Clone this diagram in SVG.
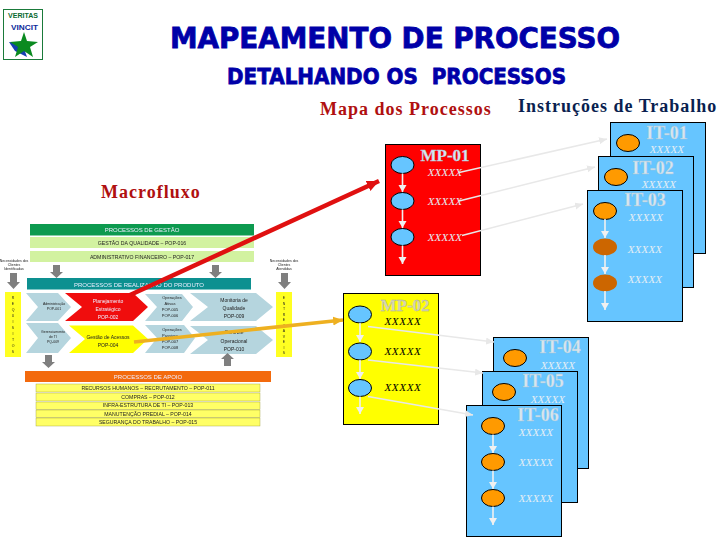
<svg xmlns="http://www.w3.org/2000/svg" width="720" height="540" viewBox="0 0 720 540">
<style>
text{font-family:"Liberation Serif",serif}
.s{font-family:"Liberation Sans",sans-serif}
.h{font-family:"DejaVu Sans",sans-serif;font-weight:bold;fill:#0000a8;stroke:#0000a8;stroke-width:.8}
.r{font-size:18px;font-weight:bold;letter-spacing:1px}
.it{fill:#66c5ff;stroke:#000;stroke-width:1}
.title{font-size:18px;font-weight:bold;fill:#d9e6ee;text-anchor:middle;stroke:#9fc4da;stroke-width:.3}
.x{font-size:11px;font-style:italic;fill:#e4eef5;text-anchor:middle;letter-spacing:.2px}
.xk{font-size:11px;font-style:italic;fill:#000;text-anchor:middle;letter-spacing:.7px}
.eo{fill:#ff9a00;stroke:#000;stroke-width:1}
.eb{fill:#66c5ff;stroke:#000;stroke-width:1}
.ed{fill:#cc6600}
.fl{stroke:#f0f0f0;stroke-width:1.600;fill:none;marker-end:url(#wa)}
.ln{stroke:#e8e8e8;stroke-width:1.600;fill:none;marker-end:url(#ga)}
.t{font-family:"Liberation Sans",sans-serif;font-size:5.200px;text-anchor:middle;fill:#222}
.tw{font-family:"Liberation Sans",sans-serif;font-size:6px;text-anchor:middle;fill:#eef}
.n4{font-size:3.500px}
.n5{font-size:5px}
.n6{font-size:4px}
.c{fill:#b5d5de}
.ar{fill:#7f7f7f}
</style>
<defs>
<marker id="wa" markerUnits="userSpaceOnUse" markerWidth="8" markerHeight="9" refX="7" refY="4" orient="auto"><path d="M0 0L7 4L0 8Z" fill="#f0f0f0"/></marker>
<marker id="ga" markerUnits="userSpaceOnUse" markerWidth="9" markerHeight="8" refX="8" refY="3.500" orient="auto"><path d="M0 0L8 3.500L0 7Z" fill="#e8e8e8"/></marker>
<marker id="ra" markerUnits="userSpaceOnUse" markerWidth="14" markerHeight="12" refX="12" refY="5.500" orient="auto"><path d="M0 0L12 5.500L0 11Z" fill="#e01010"/></marker>
<marker id="oa" markerUnits="userSpaceOnUse" markerWidth="12" markerHeight="10" refX="10" refY="4.500" orient="auto"><path d="M0 0L10 4.500L0 9Z" fill="#eeb020"/></marker>
<filter id="b" x="-5%" y="-5%" width="110%" height="110%"><feGaussianBlur stdDeviation=".5"/></filter>
</defs>

<g id="logo">
<rect x="3.500" y="9.500" width="39" height="50" fill="#fff" stroke="#1a7a3a" stroke-width="1"/>
<text x="8" y="17.500" class="s" font-size="8" font-weight="bold" fill="#0a6a30" textLength="30" lengthAdjust="spacingAndGlyphs">VERITAS</text>
<text x="11" y="29.500" class="s" font-size="8" font-weight="bold" fill="#0a2a9a" textLength="27" lengthAdjust="spacingAndGlyphs">VINCIT</text>
<path d="M9 42L22 43L27 57L15 51Z" fill="#1540b0"/>
<path d="M24 32L27 41L38 42L30 47L33 57L24 51L15 57L18 47L10 42L21 41Z" fill="#0a8a20"/>
</g>

<g id="titles">
<text x="170" y="48" class="h" font-size="28" textLength="450" lengthAdjust="spacingAndGlyphs">MAPEAMENTO DE PROCESSO</text>
<text x="227" y="84" class="h" font-size="21.500" textLength="339" lengthAdjust="spacingAndGlyphs" xml:space="preserve">DETALHANDO OS  PROCESSOS</text>
<text x="320" y="115" class="r" fill="#b01010">Mapa dos Processos</text>
<text x="518" y="112" class="r" fill="#0a1f50">Instruções de Trabalho</text>
<text x="101" y="198" class="r" fill="#b01010">Macrofluxo</text>
</g>

<g id="macrofluxo" filter="url(#b)">
<rect x="30" y="224" width="224" height="11.500" fill="#0f9a50"/>
<text x="142" y="232" class="tw">PROCESSOS DE GESTÃO</text>
<rect x="30" y="237" width="224" height="11" fill="#d2f2a0"/>
<text x="142" y="245" class="t">GESTÃO DA QUALIDADE – POP-016</text>
<rect x="30" y="251" width="224" height="11" fill="#d2f2a0"/>
<text x="142" y="259" class="t">ADMINISTRATIVO FINANCEIRO – POP-017</text>
<path class="ar" d="M53 265h7v7h3l-6.500 6l-6.500-6h3Z"/>
<path class="ar" d="M212 265h7v7h3l-6.500 6l-6.500-6h3Z"/>
<path class="ar" d="M10 273h7v9h3l-6.500 7l-6.500-7h3Z"/>
<path class="ar" d="M281 273h7v9h3l-6.500 7l-6.500-7h3Z"/>
<text x="14" y="262" class="t n4">Necessidades dos</text>
<text x="14" y="266" class="t n4">Clientes</text>
<text x="14" y="270" class="t n4">Identificadas</text>
<text x="284" y="262" class="t n4">Necessidades dos</text>
<text x="284" y="266" class="t n4">Clientes</text>
<text x="284" y="270" class="t n4">Atendidas</text>
<rect x="27" y="278" width="224" height="11.500" fill="#0a9090"/>
<text x="139" y="286.500" class="tw">PROCESSOS DE REALIZAÇÃO DO PRODUTO</text>
<rect x="5" y="292" width="16" height="65" fill="#ffff20"/>
<rect x="276" y="292" width="16" height="65" fill="#ffff20"/>
<text class="t n4"><tspan x="13" y="299">R</tspan><tspan x="13" y="305">E</tspan><tspan x="13" y="311">Q</tspan><tspan x="13" y="317">U</tspan><tspan x="13" y="323">I</tspan><tspan x="13" y="329">S</tspan><tspan x="13" y="335">I</tspan><tspan x="13" y="341">T</tspan><tspan x="13" y="347">O</tspan><tspan x="13" y="353">S</tspan></text>
<text class="t n4"><tspan x="284" y="299">E</tspan><tspan x="284" y="304.500">N</tspan><tspan x="284" y="310">T</tspan><tspan x="284" y="315.500">R</tspan><tspan x="284" y="321">E</tspan><tspan x="284" y="326.500">G</tspan><tspan x="284" y="332">A</tspan><tspan x="284" y="337.500">V</tspan><tspan x="284" y="343">E</tspan><tspan x="284" y="348.500">I</tspan><tspan x="284" y="354">S</tspan></text>
<path class="c" d="M26 293H58L71 307L58 321H26L38 307Z"/>
<path class="c" d="M26 323H58L71 338L58 353H26L38 338Z"/>
<path d="M65 293H133L148 307L133 321H65L82 307Z" fill="#f01010"/>
<path d="M69 325.500H133L148 339L133 353H69L85 339Z" fill="#ffff00"/>
<path class="c" d="M145 294H182L193 307L182 321H145L157 307Z"/>
<path class="c" d="M145 325H184L195 338L184 353H145L157 338Z"/>
<path class="c" d="M190 293H256L273 307L256 321H190L208 307Z"/>
<path class="c" d="M190 326H256L273 340L256 354H190L208 340Z"/>
<text x="54" y="305" class="t n4">Administração</text><text x="54" y="310" class="t n4">POP-001</text>
<text x="53" y="333" class="t n4">Gerenciamento</text><text x="53" y="338" class="t n4">de TI</text><text x="53" y="343" class="t n4">PQ-009</text>
<text x="108" y="303" class="tw n5">Planejamento</text><text x="108" y="311" class="tw n5">Estratégico</text><text x="108" y="319" class="tw n5">POP-002</text>
<text x="108" y="339" class="t n5">Gestão de Acessos</text><text x="108" y="347" class="t n5">POP-004</text>
<text x="172" y="299" class="t n6">Operações</text><text x="170" y="305" class="t n6">Ativas</text><text x="170" y="311" class="t n6">POP-005</text><text x="170" y="317" class="t n6">POP-006</text>
<text x="172" y="331" class="t n6">Operações</text><text x="170" y="337" class="t n6">Passivas</text><text x="170" y="343" class="t n6">POP-007</text><text x="170" y="349" class="t n6">POP-008</text>
<text x="234" y="302" class="t n5">Monitoria de</text><text x="234" y="310" class="t n5">Qualidade</text><text x="234" y="318" class="t n5">POP-009</text>
<text x="234" y="334" class="t n5">Controle</text><text x="234" y="343" class="t n5">Operacional</text><text x="234" y="351" class="t n5">POP-010</text>
<path class="ar" d="M45 355h7v7h3l-6.500 6l-6.500-6h3Z"/>
<path class="ar" d="M224 366h7v-7h3l-6.500-6l-6.500 6h3Z"/>
<rect x="25" y="371" width="246" height="11" fill="#f36a10"/>
<text x="148" y="379" class="tw">PROCESSOS DE APOIO</text>
<g fill="#ffff66" stroke="#99993a" stroke-width=".4">
<rect x="36" y="384" width="224" height="8"/><rect x="36" y="393" width="224" height="8"/><rect x="36" y="402" width="224" height="7.500"/><rect x="36" y="410" width="224" height="7.500"/><rect x="36" y="418" width="224" height="8"/>
</g>
<text x="148" y="390" class="t">RECURSOS HUMANOS – RECRUTAMENTO – POP-011</text>
<text x="148" y="399" class="t">COMPRAS – POP-012</text>
<text x="148" y="407" class="t">INFRA-ESTRUTURA DE TI – POP-013</text>
<text x="148" y="415.500" class="t">MANUTENÇÃO PREDIAL – POP-014</text>
<text x="148" y="424" class="t">SEGURANÇA DO TRABALHO – POP-015</text>
</g>

<g id="IT-01"><rect class="it" x="610.500" y="122.500" width="95" height="131"/><ellipse class="eo" cx="628" cy="143" rx="11.500" ry="8.500"/><text class="title" x="667" y="139">IT-01</text><text class="x" x="667" y="153">XXXXX</text></g>
<g id="IT-02"><rect class="it" x="598.500" y="156.500" width="95" height="131"/><ellipse class="eo" cx="616" cy="177" rx="11.500" ry="8.500"/><text class="title" x="653" y="174">IT-02</text><text class="x" x="659" y="188">XXXXX</text></g>
<g id="IT-03"><rect class="it" x="587.500" y="190.500" width="95" height="131"/><ellipse class="eo" cx="605" cy="211" rx="11.500" ry="8.500"/><ellipse class="ed" cx="605" cy="247" rx="12" ry="8.500"/><ellipse class="ed" cx="605" cy="283" rx="12" ry="8.500"/><path class="fl" d="M605 219V238"/><path class="fl" d="M605 255V274"/><path class="fl" d="M605 291V310"/><text class="title" x="645" y="206">IT-03</text><text class="x" x="646" y="221">XXXXX</text><text class="x" x="645" y="253">XXXXX</text><text class="x" x="645" y="283">XXXXX</text></g>

<g id="MP-01"><rect x="385.500" y="144.500" width="95" height="131" fill="#ff0000" stroke="#000"/><ellipse class="eb" cx="402.500" cy="165" rx="11.500" ry="8.500"/><ellipse class="eb" cx="402.500" cy="201" rx="11.500" ry="8.500"/><ellipse class="eb" cx="402.500" cy="237" rx="11.500" ry="8.500"/><path class="fl" d="M402.500 173.500V192"/><path class="fl" d="M402.500 209.500V228"/><path class="fl" d="M402.500 245.500V264"/><text class="title" x="445" y="161" style="font-size:17px">MP-01</text><text class="x" x="445" y="176">XXXXX</text><text class="x" x="445" y="205">XXXXX</text><text class="x" x="445" y="241">XXXXX</text></g>

<g id="IT-04"><rect class="it" x="493.500" y="337.500" width="95" height="131"/><ellipse class="eo" cx="515" cy="358" rx="11.500" ry="8.500"/><text class="title" x="560" y="353">IT-04</text><text class="x" x="558" y="369">XXXXX</text></g>
<g id="IT-05"><rect class="it" x="482.500" y="371.500" width="95" height="131"/><ellipse class="eo" cx="504" cy="392" rx="11.500" ry="8.500"/><text class="title" x="543" y="387">IT-05</text><text class="x" x="548" y="403">XXXXX</text></g>
<g id="IT-06"><rect class="it" x="466.500" y="405.500" width="95" height="131"/><ellipse class="eo" cx="493" cy="426" rx="11.500" ry="8.500"/><ellipse class="eo" cx="493" cy="462" rx="11.500" ry="8.500"/><ellipse class="eo" cx="493" cy="498" rx="11.500" ry="8.500"/><path class="fl" d="M493 434.500V453"/><path class="fl" d="M493 470.500V489"/><path class="fl" d="M493 506.500V525"/><text class="title" x="538" y="421">IT-06</text><text class="x" x="536" y="436">XXXXX</text><text class="x" x="536" y="466">XXXXX</text><text class="x" x="536" y="502">XXXXX</text></g>

<g id="MP-02"><rect x="343.500" y="293.500" width="95" height="131" fill="#ffff00" stroke="#000"/><ellipse class="eb" cx="360" cy="314.500" rx="11.500" ry="8.500"/><ellipse class="eb" cx="360" cy="351.500" rx="11.500" ry="8.500"/><ellipse class="eb" cx="360" cy="388" rx="11.500" ry="8.500"/><path class="fl" d="M360 323V342"/><path class="fl" d="M360 360V379"/><path class="fl" d="M360 396.500V414"/><text class="title" x="405" y="311" style="font-size:17px;fill:#d8d8b0;stroke:#a8a8a0">MP-02</text><text class="xk" x="403" y="325">XXXXX</text><text class="xk" x="403" y="355">XXXXX</text><text class="xk" x="403" y="391">XXXXX</text></g>

<g id="connectors">
<path d="M130 295L379 181" stroke="#e01010" stroke-width="4.500" fill="none" marker-end="url(#ra)"/>
<path d="M134 342L343 320" stroke="#eeb020" stroke-width="3.500" fill="none" marker-end="url(#oa)"/>
<path class="ln" d="M459 172.500L607 139"/>
<path class="ln" d="M459 201L595 167"/>
<path class="ln" d="M462 235.500L583 204"/>
<path class="ln" d="M368 326.500L494 342"/>
<path class="ln" d="M368 360L483 373"/>
<path class="ln" d="M368 396.500L473 415"/>
</g>
</svg>
